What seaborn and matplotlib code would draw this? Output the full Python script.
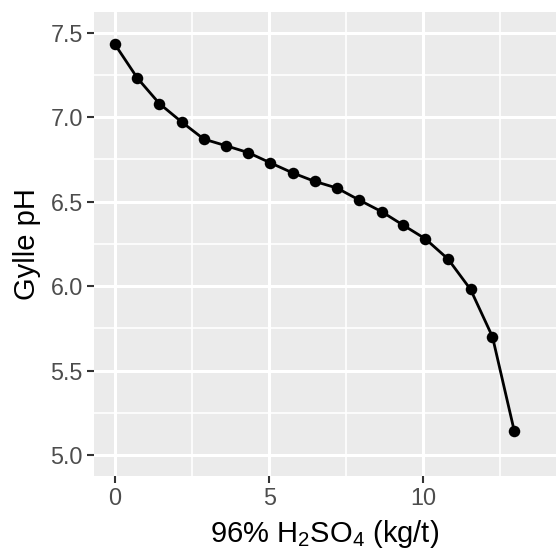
import matplotlib
matplotlib.use("Agg")
import matplotlib.pyplot as plt
import pandas as pd
import seaborn as sns
from matplotlib.ticker import MultipleLocator

# acid dose (kg/t) and resulting slurry pH
acid_dose = [0.0, 0.73, 1.44, 2.17, 2.88, 3.61, 4.32, 5.03, 5.76, 6.47,
             7.20, 7.91, 8.65, 9.35, 10.06, 10.80, 11.53, 12.24, 12.95]
slurry_ph = [7.43, 7.23, 7.08, 6.97, 6.87, 6.83, 6.79, 6.73, 6.67, 6.62,
             6.58, 6.51, 6.44, 6.36, 6.28, 6.16, 5.98, 5.70, 5.14]
x_ticks = [0, 5, 10]
y_ticks = [5.0, 5.5, 6.0, 6.5, 7.0, 7.5]

df = pd.DataFrame({"dose": acid_dose, "ph": slurry_ph})

sns.set_theme(style="darkgrid", rc={
    "axes.facecolor": "#EBEBEB",
    "grid.color": "white",
    "axes.edgecolor": "none",
})
plt.rcParams["font.family"] = ["Liberation Sans", "DejaVu Sans"]
plt.rcParams["mathtext.fontset"] = "custom"
plt.rcParams["mathtext.rm"] = "Liberation Sans"

fig = plt.figure(figsize=(5.56, 5.5), dpi=100)
ax = fig.add_axes([94 / 556, 74 / 550, 1 - 94 / 556, (476 - 12) / 550])

sns.lineplot(data=df, x="dose", y="ph", ax=ax, color="black", linewidth=2.0,
             marker="o", markersize=8.3, markeredgewidth=0, sort=False)

ax.set_xlim(-0.68, 14.3)
ax.set_ylim(4.876, 7.622)
ax.set_xticks(x_ticks)
ax.set_yticks(y_ticks)
ax.set_yticklabels([f"{v:.1f}" for v in y_ticks])
ax.xaxis.set_minor_locator(MultipleLocator(2.5))
ax.yaxis.set_minor_locator(MultipleLocator(0.25))
ax.grid(which="major", color="white", linewidth=2.2)
ax.grid(which="minor", color="white", linewidth=1.2)
ax.tick_params(which="major", length=5, width=1.5, color="#333333",
               labelsize=16.8, labelcolor="#4D4D4D", pad=3,
               bottom=True, left=True)
ax.tick_params(which="minor", length=0)
for s in ax.spines.values():
    s.set_visible(False)

ax.set_xlabel("96% H$_\\mathrm{2}$SO$_\\mathrm{4}$ (kg/t)", fontsize=21,
              color="black", labelpad=5.5)
ax.set_ylabel("Gylle pH", fontsize=21, color="black", labelpad=7)

fig.savefig("out.png", dpi=100)
